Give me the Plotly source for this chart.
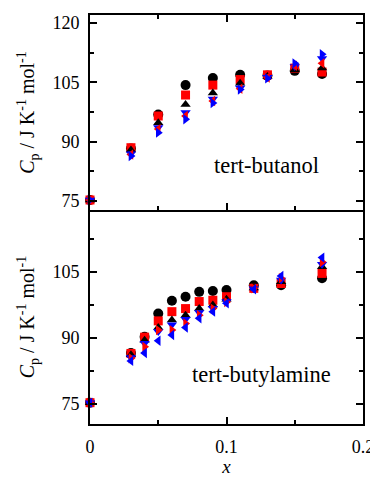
import plotly.graph_objects as go
from plotly.subplots import make_subplots

# ---- top panel: tert-butanol ----
x_top = [0.0, 0.03, 0.05, 0.07, 0.09, 0.11, 0.13, 0.15, 0.17]
top_circle = [75.3, 88.3, 96.9, 104.3, 106.1, 106.9, 106.7, 107.9, 107.1]
top_square = [75.3, 88.5, 96.5, 101.8, 104.3, 105.7, 106.9, 108.6, 107.6]
top_tri_up = [75.3, 87.9, 94.8, 99.4, 102.3, 104.8, 106.5, 108.2, 108.6]
top_tri_down = [75.3, 87.0, 93.6, 97.4, 100.8, 103.6, 106.3, 109.0, 111.0]
top_tri_left = [75.3, 86.8, 93.2, 96.5, 100.3, 103.4, 106.2, 109.2, 109.8]
top_tri_right = [75.3, 86.4, 92.3, 95.7, 99.8, 103.2, 106.0, 109.8, 112.1]

# ---- bottom panel: tert-butylamine ----
x_bot = [0.0, 0.03, 0.04, 0.05, 0.06, 0.07, 0.08, 0.09, 0.10, 0.12, 0.14, 0.17]
bot_circle = [75.3, 86.6, 90.3, 95.6, 98.5, 99.4, 100.5, 100.7, 100.9, 102.0, 102.0, 103.6]
bot_square = [75.3, 86.5, 90.2, 93.9, 96.0, 96.7, 98.3, 98.6, 99.4, 101.3, 102.4, 104.7]
bot_tri_up = [75.3, 86.2, 89.5, 92.4, 94.1, 95.2, 96.7, 97.5, 98.8, 101.4, 102.8, 106.2]
bot_tri_down = [75.3, 85.6, 88.8, 91.5, 93.0, 94.3, 95.8, 96.8, 98.3, 101.2, 103.2, 106.8]
bot_tri_right = [75.3, 85.4, 88.0, 91.8, 91.8, 93.3, 95.2, 96.7, 98.2, 101.3, 103.6, 107.3]
bot_tri_left = [75.3, 84.8, 86.6, 89.4, 90.7, 92.4, 94.5, 96.0, 97.9, 101.1, 104.1, 108.3]

top_ticks = [75, 90, 105, 120]
bot_ticks = [75, 90, 105]
x_ticks = [0, 0.1, 0.2]
x_tick_labels = ["0", "0.1", "0.2"]

BLACK = "#000000"
RED = "#ff0000"
BLUE = "#0000ff"
FONT = "Liberation Serif, Times New Roman, serif"

fig = make_subplots(rows=2, cols=1, shared_xaxes=False, vertical_spacing=0,
                    row_heights=[0.477, 0.523])


def add(x, y, symbol, color, row, size=9):
    fig.add_trace(go.Scatter(x=x, y=y, mode="markers", cliponaxis=False,
                             marker=dict(symbol=symbol, color=color, size=size,
                                         line=dict(width=0)),
                             showlegend=False), row=row, col=1)


add(x_top, top_circle, "circle", BLACK, 1, 10)
add(x_top, top_square, "square", RED, 1)
add(x_top, top_tri_up, "triangle-up", BLACK, 1)
add(x_top, top_tri_down, "triangle-down", BLUE, 1)
add(x_top, top_tri_left, "triangle-left", RED, 1)
add(x_top, top_tri_right, "triangle-right", BLUE, 1)

add(x_bot, bot_circle, "circle", BLACK, 2, 10)
add(x_bot, bot_square, "square", RED, 2)
add(x_bot, bot_tri_up, "triangle-up", BLACK, 2)
add(x_bot, bot_tri_down, "triangle-down", BLUE, 2)
add(x_bot, bot_tri_right, "triangle-right", RED, 2)
add(x_bot, bot_tri_left, "triangle-left", BLUE, 2)

axis_common = dict(showline=True, linecolor=BLACK, linewidth=1.8, automargin=False,
                   ticks="inside", tickcolor=BLACK, tickwidth=1.5, ticklen=7,
                   showgrid=False, zeroline=False, ticklabelstandoff=5,
                   tickfont=dict(family=FONT, size=18, color=BLACK))
minor = dict(ticks="inside", ticklen=4, tickcolor=BLACK, tickwidth=1.5, showgrid=False)

fig.update_xaxes(range=[0, 0.2], tickvals=x_ticks, ticktext=x_tick_labels,
                 minor=dict(dtick=0.05, **minor), **axis_common)
fig.update_xaxes(showticklabels=False, mirror="allticks", row=1, col=1)
fig.update_xaxes(mirror=False, row=2, col=1,
                 title=dict(text="<i>x</i>", font=dict(family=FONT, size=19, color=BLACK),
                            standoff=3))

ytitle = "<i>C</i><sub>p</sub> / J K<sup>-1</sup> mol<sup>-1</sup>"
fig.update_yaxes(range=[72.75, 122], tickvals=top_ticks, mirror="allticks",
                 minor=dict(tickvals=[82.5, 97.5, 112.5], **minor),
                 title=dict(text=ytitle, font=dict(family=FONT, size=20, color=BLACK), standoff=12),
                 row=1, col=1, **axis_common)
fig.update_yaxes(range=[70.45, 119.1], tickvals=bot_ticks, mirror="allticks",
                 minor=dict(tickvals=[82.5, 97.5, 112.5], **minor),
                 title=dict(text=ytitle, font=dict(family=FONT, size=20, color=BLACK), standoff=12),
                 row=2, col=1, **axis_common)

fig.add_annotation(x=0.129, y=84, xref="x", yref="y", text="tert-butanol",
                   showarrow=False, font=dict(family=FONT, size=22.5, color=BLACK))
fig.add_annotation(x=0.126, y=81.6, xref="x2", yref="y2", text="tert-butylamine",
                   showarrow=False, font=dict(family=FONT, size=22.5, color=BLACK))

# margins compensate for the page's default 8px body margin
fig.update_layout(width=378, height=479, margin=dict(l=82, r=23, t=7, b=63),
                  plot_bgcolor="white", paper_bgcolor="white",
                  font=dict(family=FONT, color=BLACK))

fig.write_html("out.html")
